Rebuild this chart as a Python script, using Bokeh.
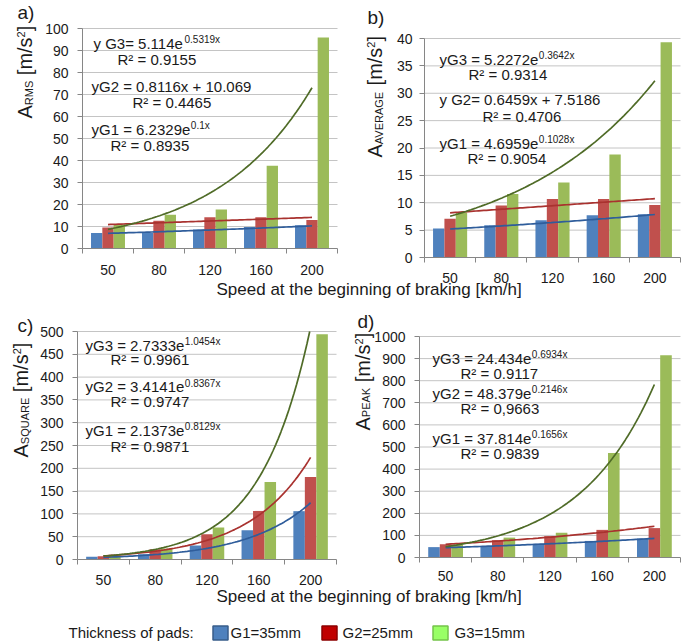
import numpy as np
from bokeh.plotting import figure
from bokeh.models import Range1d, LinearAxis, FixedTicker, Label, ColumnDataSource
from bokeh.embed import file_html
from bokeh.resources import INLINE

# ---------------- data ----------------
speeds = ["50", "80", "120", "160", "200"]
groups = ["G1=35mm", "G2=25mm", "G3=15mm"]

rms_g1 = [7.0, 7.1, 8.6, 9.8, 10.6]
rms_g2 = [9.5, 12.6, 14.2, 14.2, 12.9]
rms_g3 = [10.9, 15.3, 17.7, 37.6, 95.9]

avg_g1 = [5.3, 5.9, 6.8, 7.7, 7.9]
avg_g2 = [7.1, 9.5, 10.7, 10.7, 9.6]
avg_g3 = [8.2, 11.6, 13.7, 18.8, 39.3]

sq_g1 = [5.8, 11.5, 30.5, 64.0, 106.0]
sq_g2 = [7.3, 22.5, 55.5, 106.5, 181.0]
sq_g3 = [8.0, 24.0, 70.0, 170.0, 494.0]

peak_g1 = [47, 52, 62, 75, 86]
peak_g2 = [60, 78, 97, 125, 133]
peak_g3 = [58, 90, 112, 473, 915]

# trendlines as printed on the chart: (kind, a, b)
rms_trend = [("exp", 6.2329, 0.1), ("lin", 0.8116, 10.069), ("exp", 5.114, 0.5319)]
avg_trend = [("exp", 4.6959, 0.1028), ("lin", 0.6459, 7.5186), ("exp", 5.2272, 0.3642)]
sq_trend = [("exp", 2.1373, 0.8129), ("exp", 3.4141, 0.8367), ("exp", 2.7333, 1.0454)]
peak_trend = [("exp", 37.814, 0.1656), ("exp", 48.379, 0.2146), ("exp", 24.434, 0.6934)]

rms_eq = ["y G3= 5.114e", "R² = 0.9155", "yG2 = 0.8116x + 10.069", "R² = 0.4465", "yG1 = 6.2329e", "R² = 0.8935"]
rms_eq_sup = ["0.5319x", "", "", "", "0.1x", ""]
avg_eq = ["yG3 = 5.2272e", "R² = 0.9314", "y G2= 0.6459x + 7.5186", "R² = 0.4706", "yG1 = 4.6959e", "R² = 0.9054"]
avg_eq_sup = ["0.3642x", "", "", "", "0.1028x", ""]
sq_eq = ["yG3 = 2.7333e", "R² = 0.9961", "yG2 = 3.4141e", "R² = 0.9747", "yG1 = 2.1373e", "R² = 0.9871"]
sq_eq_sup = ["1.0454x", "", "0.8367x", "", "0.8129x", ""]
peak_eq = ["yG3 = 24.434e", "R² = 0.9117", "yG2 = 48.379e", "R² = 0,9663", "yG1 = 37.814e", "R² = 0.9839"]
peak_eq_sup = ["0.6934x", "", "0.2146x", "", "0.1656x", ""]

y_names = ["RMS", "AVERAGE", "SQUARE", "PEAK"]
x_title = "Speed at the beginning of braking [km/h]"
legend_title = "Thickness of pads:"

# ---------------- style / layout ----------------
W, H = 681, 643
FONT = "Liberation Sans"
TXT = "#1a1a1a"
BAR_COLORS = ["#4F81BD", "#C0504D", "#9BBB59"]
TREND_COLORS = ["#2F5D9B", "#A9322F", "#4F6B27"]
LEG_FILL = ["#4F81BD", "#C00000", "#99FF66"]
LEG_LINE = ["#385D8A", "#8C0000", "#74C44A"]
GRID = "#C4C4C4"
AXIS = "#868686"

AW = {' ': 278, '.': 278, ',': 278, '=': 584, '+': 584, '²': 333, '[': 278, ']': 278, '/': 278,
      '(': 333, ')': 333, ':': 278, 'A': 667, 'E': 667, 'G': 778, 'K': 667, 'M': 833, 'P': 667,
      'Q': 778, 'R': 722, 'S': 667, 'U': 722, 'V': 667, 'e': 556, 'm': 833, 's': 500, 'x': 500,
      'y': 500}


def tw(s, size):
    return sum(AW.get(c, 556) for c in s) / 1000.0 * size


p = figure(width=W, height=H, x_range=Range1d(0, W), y_range=Range1d(0, H), min_border=0,
           output_backend="svg", toolbar_location=None, x_axis_location=None,
           y_axis_location=None, title=None)
p.outline_line_color = None
p.xgrid.visible = False
p.ygrid.visible = False
p.background_fill_color = "white"
p.border_fill_color = "white"


def label(x, yc, text, size, angle=0.0, align="left"):
    # yc: vertical centre of the text, in pixels from the top
    p.add_layout(Label(x=x, y=H - yc, text=text, text_font=FONT, text_font_size=f"{size}px",
                       text_color=TXT, angle=angle, text_align=align, text_baseline="middle"))


panels = [
    dict(name="a", frame=(82, 337, 28, 248), ymax=100, step=10, vals=[rms_g1, rms_g2, rms_g3],
         trend=rms_trend, eq=rms_eq, sup=rms_eq_sup, xstand=11, ystand=9,
         eqpos=[(93, 42.6), (117, 58.6), (91, 85.6), (132, 101.6), (91, 128.6), (110, 144.6)],
         letter=("a)", 17, 11.5), ylab=(24.5, 118)),
    dict(name="b", frame=(424, 680, 38, 257), ymax=40, step=5, vals=[avg_g1, avg_g2, avg_g3],
         trend=avg_trend, eq=avg_eq, sup=avg_eq_sup, xstand=10, ystand=7,
         eqpos=[(439, 58.6), (468, 74.1), (439, 99.1), (482, 115.6), (439, 142.6), (467, 157.6)],
         letter=("b)", 367, 16.5), ylab=(374.5, 157)),
    dict(name="c", frame=(77, 336, 331, 559), ymax=500, step=50, vals=[sq_g1, sq_g2, sq_g3],
         trend=sq_trend, eq=sq_eq, sup=sq_eq_sup, xstand=10, ystand=9,
         eqpos=[(85, 344.6), (110, 359.1), (85, 386.1), (110, 401.1), (85, 429.6), (110, 445.6)],
         letter=("c)", 17, 325), ylab=(20.5, 457)),
    dict(name="d", frame=(419, 680, 336, 557), ymax=1000, step=100, vals=[peak_g1, peak_g2, peak_g3],
         trend=peak_trend, eq=peak_eq, sup=peak_eq_sup, xstand=8, ystand=9,
         eqpos=[(432, 357.6), (460, 372.6), (432, 392.6), (460, 407.6), (432, 437.6), (460, 452.6)],
         letter=("d)", 357, 320.5), ylab=(362, 430)),
]

n = len(speeds)
BW = 0.222
xr_all, yr_all = {}, {}
for k, pan in enumerate(panels):
    L, R, T, B = pan["frame"]
    w = (R - L) / n
    ppu = (B - T) / pan["ymax"]
    xn, yn = "x" + pan["name"], "y" + pan["name"]
    xr_all[xn] = Range1d(-L / w, (W - L) / w)
    yr_all[yn] = Range1d((B - H) / ppu, B / ppu)
p.extra_x_ranges = xr_all
p.extra_y_ranges = yr_all

for k, pan in enumerate(panels):
    xn, yn = "x" + pan["name"], "y" + pan["name"]
    ymax, step = pan["ymax"], pan["step"]
    ticks = list(range(0, ymax + 1, step))
    # gridlines
    gl = ColumnDataSource(dict(y=ticks[1:]))
    p.segment(x0=0, x1=n, y0="y", y1="y", source=gl, line_color=GRID, line_width=1,
              x_range_name=xn, y_range_name=yn)
    # bars
    for gi, vals in enumerate(pan["vals"]):
        src = ColumnDataSource(dict(x=[i + 0.5 + (gi - 1) * BW for i in range(n)], top=vals))
        p.vbar(x="x", top="top", bottom=0, width=BW, source=src, fill_color=BAR_COLORS[gi],
               line_color=None, x_range_name=xn, y_range_name=yn)
    # trendlines (from printed equations, x = category number 1..5)
    for gi, (kind, a, b) in enumerate(pan["trend"]):
        xe_max = 5.0
        if kind == "exp" and a * np.exp(b * 5) > ymax:
            xe_max = np.log(ymax / a) / b
        xe = np.linspace(1.0, xe_max, 80)
        ye = a * np.exp(b * xe) if kind == "exp" else a * xe + b
        p.line(xe - 0.5, ye, line_color=TREND_COLORS[gi], line_width=1.7,
               x_range_name=xn, y_range_name=yn)
    # axes
    xax = LinearAxis(x_range_name=xn, y_range_name=yn, fixed_location=0, bounds=(0, n),
                     ticker=FixedTicker(ticks=[i + 0.5 for i in range(n)],
                                        minor_ticks=list(range(n + 1))),
                     major_label_overrides={i + 0.5: s for i, s in enumerate(speeds)})
    xax.major_tick_out = 0
    xax.major_tick_in = 0
    xax.minor_tick_out = 5
    xax.minor_tick_in = 0
    xax.minor_tick_line_color = AXIS
    xax.major_label_standoff = pan["xstand"]
    yax = LinearAxis(x_range_name=xn, y_range_name=yn, fixed_location=0, bounds=(0, ymax),
                     ticker=FixedTicker(ticks=ticks, minor_ticks=[]))
    yax.major_tick_out = 5
    yax.major_tick_in = 0
    yax.minor_tick_line_color = None
    yax.major_label_standoff = pan["ystand"]
    for ax in (xax, yax):
        ax.axis_line_color = AXIS
        ax.major_tick_line_color = AXIS
        ax.major_label_text_font = FONT
        ax.major_label_text_font_size = "14px"
        ax.major_label_text_color = TXT
    p.add_layout(xax, "below")
    p.add_layout(yax, "left")

    # equations
    for (tx, yc), main, sup in zip(pan["eqpos"], pan["eq"], pan["sup"]):
        label(tx, yc, main, 15)
        if sup:
            label(tx + tw(main, 15) + 0.5, yc - 3.2, sup, 10)
    # panel letter
    lt, lx, ly = pan["letter"]
    label(lx, ly, lt, 19)
    # rotated y-axis title: A_sub [m/s^2]
    cx, sy = pan["ylab"]
    pieces = [("A", 20, 0, 0.0), (y_names[k], 11, 3.8, 0.0), ("[m/s", 20, 0, tw(" ", 20)),
              ("2", 11, -4.0, 0.0), ("]", 20, 0, 0.0)]
    cum = 0.0
    for txt, sz, off, pre in pieces:
        cum += pre
        label(cx + off, sy - cum, txt, sz, angle=np.pi / 2)
        cum += tw(txt, sz)

# x-axis titles
label(216, 289, x_title, 17)
label(216, 596, x_title, 17)

# legend
label(68, 632, legend_title, 15)
sw_x = [212, 321, 432]
tx_x = [230, 342, 454]
for gi in range(3):
    p.rect(x=sw_x[gi] + 8, y=H - 632.5, width=15, height=14, fill_color=LEG_FILL[gi],
           line_color=LEG_LINE[gi], line_width=1.5)
    label(tx_x[gi], 632, groups[gi], 15)

open("out.html", "w").write(file_html(p, INLINE))
